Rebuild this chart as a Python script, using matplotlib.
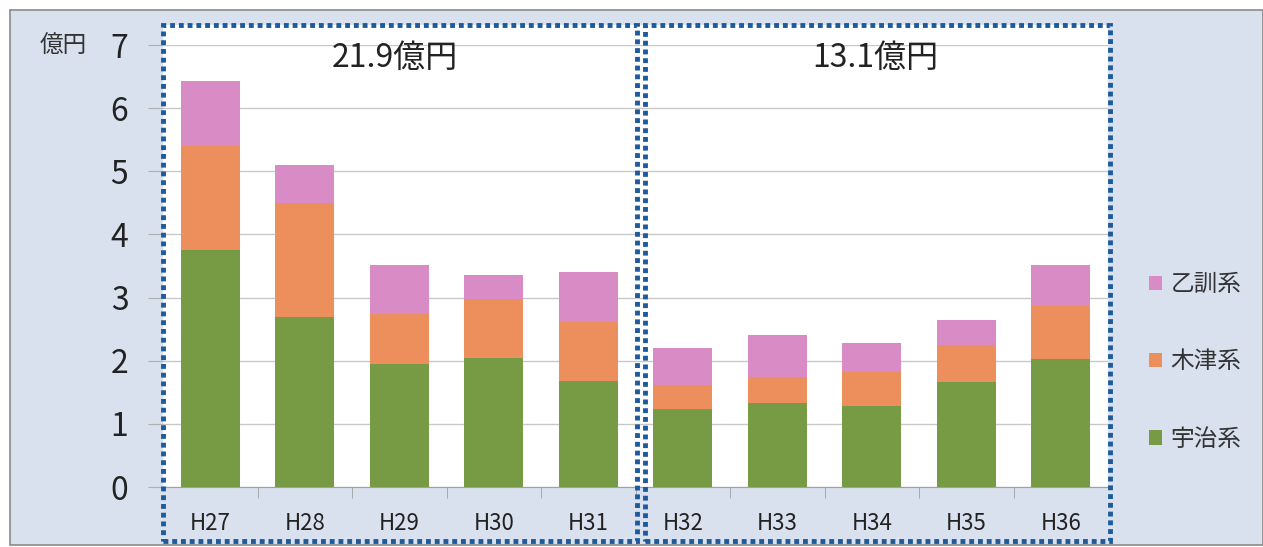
import matplotlib
matplotlib.use("Agg")
import matplotlib.pyplot as plt
from matplotlib.patches import Rectangle
import numpy as np

plt.rcParams['font.family'] = ['Noto Sans CJK JP', 'DejaVu Sans']

categories = ["H27", "H28", "H29", "H30", "H31", "H32", "H33", "H34", "H35", "H36"]
uji = [3.76, 2.70, 1.95, 2.04, 1.68, 1.23, 1.33, 1.28, 1.66, 2.02]
kizu = [1.64, 1.80, 0.79, 0.93, 0.94, 0.39, 0.42, 0.54, 0.59, 0.85]
otokuni = [1.03, 0.60, 0.77, 0.38, 0.78, 0.58, 0.65, 0.46, 0.39, 0.64]
series_names = ["宇治系", "木津系", "乙訓系"]
group_labels = ["21.9億円", "13.1億円"]
y_ticks = [0, 1, 2, 3, 4, 5, 6, 7]
unit_label = "億円"

colors = ["#779a45", "#ec8f5c", "#d98bc6"]
bg = "#d9e0ee"

W, H = 1263, 547
fig = plt.figure(figsize=(W / 100, H / 100), dpi=100)
fig.patch.set_facecolor("white")

def px(x, y):
    return x / W, 1 - y / H

# outer panel
x0, y0 = px(10, 545)
fig.patches.append(Rectangle((x0, y0), (W - 10) / W, (545 - 10) / H, transform=fig.transFigure,
                             facecolor=bg, edgecolor="#8a8a8a", lw=1.2, zorder=0))
# white plot region
x0, y0 = px(163, 487)
fig.patches.append(Rectangle((x0, y0), (1108 - 163) / W, (487 - 25) / H, transform=fig.transFigure,
                             facecolor="white", edgecolor="none", zorder=0.5))

ax = fig.add_axes([163 / W, (H - 487) / H, (1108 - 163) / W, (487 - 45) / H])
ax.set_zorder(2)
ax.set_facecolor("none")
x = np.arange(len(categories))
bw = 0.62
bottoms = np.zeros(len(categories))
bars = []
for vals, c, name in zip([uji, kizu, otokuni], colors, series_names):
    b = ax.bar(x, vals, bw, bottom=bottoms, color=c, label=name, zorder=3)
    bars.append(b)
    bottoms = bottoms + np.array(vals)

ax.set_xlim(-0.5, len(categories) - 0.5)
ax.set_ylim(0, 7)
ax.set_yticks(y_ticks)
ax.set_yticklabels([str(t) for t in y_ticks], fontsize=23, color="#222222")
ax.yaxis.grid(True, color="#c8c8c8", lw=1, zorder=1)
ax.set_axisbelow(True)
ax.tick_params(axis="y", length=11, color="#b0b0b0", pad=14)
for s in ["left", "right", "top"]:
    ax.spines[s].set_visible(False)
ax.spines["bottom"].set_color("#a0a0a0")
ax.set_xticks(x)
ax.set_xticklabels(categories, fontsize=16, color="#222222")
ax.tick_params(axis="x", length=0, pad=18)
ax.set_xticks(np.arange(0.5, len(categories) - 1, 1), minor=True)
ax.tick_params(axis="x", which="minor", length=8, color="#a0a0a0")

fig.text(63 / W, 1 - 46 / H, unit_label, fontsize=17, color="#333333", ha="center", va="center")

# dotted group boxes
for (l, r), lab, cx in zip([(163, 637), (645, 1110)], group_labels, [395, 875]):
    xa, ya = px(l, 541)
    fig.patches.append(Rectangle((xa, ya), (r - l) / W, (541 - 25) / H, transform=fig.transFigure,
                                 facecolor="none", edgecolor="#1d5b9c", lw=3.5,
                                 linestyle=(0, (1.0, 0.8)), zorder=5))
    fig.text(cx / W, 1 - 58 / H, lab, fontsize=23, color="#222222", ha="center", va="center", zorder=6)

leg = fig.legend(handles=bars[::-1], labels=series_names[::-1], loc="center left",
                 bbox_to_anchor=(1128 / W, 1 - 362 / H), frameon=False, fontsize=17,
                 handlelength=0.55, handleheight=0.55, handletextpad=0.35, labelspacing=2.3)
for t in leg.get_texts():
    t.set_color("#333333")

fig.savefig("out.png", dpi=100)
